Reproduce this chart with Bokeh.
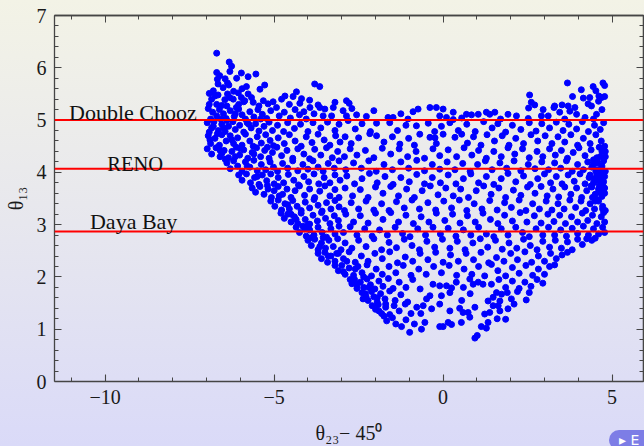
from bokeh.plotting import figure
from bokeh.models import LinearAxis, FixedTicker, Span, Label, Range1d, InlineStyleSheet
from bokeh.embed import file_html
from bokeh.resources import INLINE

# Reactor measurements of theta13 (degrees)
experiments = ["Double Chooz", "RENO", "Daya Bay"]
theta13_exp = [5.0, 4.07, 2.87]

# Scan points (theta23 - 45 deg, theta13), grouped in horizontal strips
strip_60 = [(-6.70,6.28),(-6.33,6.11),(-6.26,6.03),(-6.31,5.93),(-6.70,5.91),(-6.61,5.85),(-6.68,5.78),
            (-5.97,5.90),(-6.11,5.80),(-5.77,5.83),(-5.54,5.88),(-6.45,5.79)]
strip_55 = [(-6.66,5.69),(-6.51,5.62),(-6.38,5.71),(-6.34,5.67),(-5.82,5.64),(-5.28,5.67),(-5.42,5.59),
            (-6.80,5.56),(-6.06,5.52),(-5.77,5.50),(-4.34,5.54),(-3.80,5.69),(-3.65,5.64),(-6.92,5.51),
            (-5.95,5.60),(-6.20,5.55),(3.68,5.71),(4.73,5.71),(4.78,5.66),(4.44,5.64),(4.09,5.58),(4.52,5.56)]
strip_52 = [(-6.75,5.46),(-6.85,5.40),(-6.66,5.48),(-6.46,5.39),(-6.31,5.43),(-6.21,5.40),(-5.97,5.43),
            (-5.67,5.43),(-5.87,5.37),(-5.62,5.34),(-5.32,5.37),(-5.18,5.31),(-5.03,5.35),(-4.78,5.40),
            (-4.68,5.46),(-4.44,5.45),(-4.19,5.41),(-4.24,5.32),(-3.70,5.29),(-3.20,5.34),(-6.92,5.30),
            (-6.55,5.28),(-6.05,5.30),(-5.45,5.27),(-4.55,5.30),(-3.95,5.38),(-2.86,5.37),(-2.78,5.32),
            (-6.40,5.27),(2.56,5.48),(2.61,5.34),(2.71,5.29),(3.83,5.45),(4.34,5.43),(4.61,5.46),
            (4.69,5.43),(4.78,5.45),(4.29,5.31),(4.39,5.27),(3.52,5.29),(3.70,5.27),(4.60,5.36),
            (4.15,5.42),(3.30,5.27)]
strip_50 = [(-6.95,5.22),(-6.82,5.15),(-6.70,5.08),(-6.62,5.20),(-6.50,5.12),(-6.42,5.03),(-6.30,5.18),
            (-6.18,5.07),(-6.05,5.21),(-5.95,5.10),(-5.85,5.02),(-5.72,5.16),(-5.60,5.06),(-5.48,5.20),
            (-5.35,5.11),(-5.22,5.03),(-5.10,5.18),(-6.88,5.02),(-6.58,5.02),(-6.12,5.24),
            (-4.93,5.24),(-4.85,5.08),(-4.70,5.15),(-4.52,5.04),(-4.38,5.20),(-4.25,5.10),(-4.05,5.02),
            (-3.94,5.24),(-3.65,5.24),(-3.50,5.21),(-3.25,5.24),(-3.30,5.08),(-3.55,5.08),(-3.82,5.12),
            (-4.12,5.16),(-2.96,5.18),(-2.86,5.08),(-2.56,5.10),(-2.27,5.07),(-1.63,5.05),(-1.48,5.05),
            (-0.89,5.16),(-0.74,5.21),(-1.04,5.02),(-0.39,5.24),(-0.20,5.24),(-0.10,5.08),(-2.05,5.18),
            (-1.25,5.12),(-2.70,5.22),(0.00,5.21),(0.30,5.15),(0.10,5.05),(0.30,5.01),(0.69,5.11),
            (0.84,5.10),(1.04,5.11),(1.28,5.15),(1.38,5.11),(1.53,5.15),(1.92,5.11),(2.17,5.08),
            (2.53,5.23),(2.96,5.20),(2.91,5.08),(2.52,5.03),(1.70,5.02),(0.55,5.04),(3.28,5.24),
            (3.75,5.17),(3.95,5.11),(3.45,5.15),(3.11,5.08),(4.54,5.11),(3.90,5.24),(4.20,5.05),
            (4.70,5.20),(4.45,5.02),(3.60,5.02)]
strip_48 = [(-6.98,4.95),(-6.85,4.85),(-6.78,4.97),(-6.65,4.80),(-6.55,4.92),(-6.45,4.78),(-6.35,4.88),
            (-6.22,4.97),(-6.15,4.82),(-6.02,4.90),(-5.90,4.77),(-5.80,4.95),(-5.68,4.85),(-5.55,4.93),
            (-5.45,4.79),(-5.30,4.88),(-5.15,4.96),(-5.05,4.80),(-6.92,4.77),(-6.40,4.99),
            (-4.90,4.90),(-4.72,4.78),(-4.60,4.95),(-4.40,4.84),(-4.22,4.92),(-4.00,4.78),(-3.85,4.95),
            (-3.62,4.85),(-3.42,4.96),(-3.20,4.80),(-3.08,4.92),(-2.81,4.99),(-2.60,4.83),(-2.40,4.93),
            (-2.15,4.78),(-1.97,4.94),(-1.58,4.95),(-1.35,4.80),(-1.10,4.90),(-0.79,4.89),(-0.44,4.94),
            (-0.25,4.78),(-0.05,4.88),(0.20,4.95),(0.45,4.80),(0.70,4.92),(0.95,4.78),(1.20,4.97),
            (1.45,4.85),(1.62,4.93),(1.85,4.77),(2.05,4.90),(2.30,4.82),(2.55,4.95),(2.75,4.79),
            (2.92,4.93),(3.15,4.85),(3.35,4.96),(3.55,4.80),(3.72,4.92),(3.95,4.83),(4.12,4.97),
            (4.30,4.78),(4.48,4.90),(4.65,4.82),(4.75,4.95)]
strip_45 = [(-6.95,4.70),(-6.88,4.55),(-6.75,4.65),(-6.62,4.52),(-6.55,4.72),(-6.42,4.60),(-6.30,4.70),
            (-6.20,4.55),(-6.08,4.66),(-5.95,4.52),(-5.85,4.73),(-5.72,4.60),(-5.62,4.50),(-5.50,4.68),
            (-5.38,4.56),(-5.25,4.72),(-5.12,4.61),(-5.02,4.51),(-6.68,4.74),
            (-4.88,4.66),(-4.70,4.55),(-4.55,4.72),(-4.38,4.60),(-4.20,4.50),(-4.05,4.68),(-3.88,4.57),
            (-3.70,4.73),(-3.52,4.62),(-3.35,4.52),(-3.18,4.70),(-3.05,4.58),(-2.90,4.68),(-2.72,4.55),
            (-2.50,4.66),(-2.17,4.74),(-1.97,4.70),(-1.75,4.58),(-1.50,4.68),(-1.28,4.54),(-1.02,4.65),
            (-0.69,4.73),(-0.39,4.67),(-0.24,4.66),(-0.20,4.55),(-0.85,4.52),(0.00,4.73),(0.35,4.67),
            (0.55,4.73),(0.72,4.56),(0.90,4.68),(1.12,4.52),(1.30,4.72),(1.52,4.60),(1.75,4.70),
            (1.95,4.52),(2.15,4.65),(2.38,4.55),(2.60,4.72),(2.80,4.60),(3.02,4.70),(3.22,4.55),
            (3.40,4.68),(3.60,4.58),(3.78,4.72),(3.98,4.52),(4.15,4.65),(4.35,4.55),(4.52,4.72),
            (4.68,4.60),(4.78,4.50)]
strip_42 = [(-6.98,4.45),(-6.85,4.35),(-6.72,4.47),(-6.60,4.30),(-6.48,4.42),(-6.35,4.28),(-6.25,4.40),
            (-6.12,4.48),(-6.02,4.33),(-5.90,4.43),(-5.78,4.27),(-5.65,4.38),(-5.52,4.47),(-5.40,4.30),
            (-5.28,4.42),(-5.15,4.27),(-5.05,4.38),(-6.55,4.36),
            (-4.92,4.48),(-4.78,4.32),(-4.62,4.42),(-4.45,4.27),(-4.30,4.45),(-4.12,4.35),(-3.95,4.26),
            (-3.80,4.44),(-3.62,4.33),(-3.45,4.47),(-3.28,4.28),(-3.12,4.40),(-2.92,4.30),(-2.75,4.45),
            (-2.55,4.33),(-2.30,4.42),(-2.05,4.28),(-1.80,4.46),(-1.55,4.35),(-1.30,4.45),(-1.05,4.30),
            (-0.80,4.40),(-0.55,4.27),(-0.30,4.45),(-0.10,4.32),(0.15,4.43),(0.40,4.30),(0.62,4.47),
            (0.85,4.33),(1.05,4.42),(1.28,4.27),(1.50,4.40),(1.72,4.30),(1.92,4.47),(2.12,4.35),
            (2.35,4.45),(2.55,4.28),(2.78,4.40),(2.95,4.30),(3.15,4.45),(3.32,4.33),(3.50,4.42),
            (3.68,4.27),(3.85,4.38),(4.02,4.47),(4.20,4.32),(4.38,4.43),(4.55,4.28),(4.70,4.40),
            (4.62,4.48),(4.80,4.30)]
strip_40 = [(-6.40,4.18),(-6.30,4.07),(-6.20,4.22),(-6.08,4.12),(-5.95,4.02),(-5.85,4.20),(-5.72,4.10),
            (-5.60,4.23),(-5.50,4.03),(-5.38,4.15),(-5.25,4.05),(-5.12,4.20),(-5.02,4.10),(-6.45,4.25),
            (-4.90,4.02),(-4.75,4.17),(-4.60,4.08),(-4.45,4.22),(-4.30,4.03),(-4.15,4.15),(-4.00,4.06),
            (-3.85,4.22),(-3.70,4.10),(-3.55,4.02),(-3.40,4.17),(-3.22,4.08),(-3.08,4.22),(-2.88,4.05),
            (-2.65,4.18),(-2.42,4.08),(-2.20,4.22),(-1.98,4.02),(-1.75,4.15),(-1.50,4.05),(-1.25,4.20),
            (-1.02,4.08),(-0.78,4.23),(-0.55,4.03),(-0.32,4.15),(-0.10,4.06),(0.12,4.20),(0.35,4.05),
            (0.58,4.17),(0.80,4.02),(1.02,4.15),(1.25,4.22),(1.45,4.05),(1.68,4.18),(1.88,4.08),
            (2.10,4.22),(2.30,4.03),(2.52,4.15),(2.72,4.07),(2.92,4.20),(3.12,4.05),(3.30,4.18),
            (3.48,4.08),(3.65,4.22),(3.82,4.02),(3.98,4.15),(4.15,4.05),(4.28,4.20),(4.40,4.10),
            (4.52,4.02),(4.58,4.18),(4.68,4.08),(4.75,4.22),(4.80,4.02),(4.45,4.24)]
strip_38 = [(-6.05,3.95),(-5.95,3.85),(-5.82,3.97),(-5.70,3.80),(-5.58,3.90),(-5.45,3.77),(-5.35,3.95),
            (-5.22,3.84),(-5.10,3.97),(-5.00,3.78),(-4.88,3.90),(-4.72,3.80),(-4.58,3.96),(-4.42,3.85),
            (-4.28,3.76),(-4.12,3.92),(-3.98,3.82),(-3.82,3.97),(-3.68,3.78),(-3.52,3.90),(-3.35,3.80),
            (-3.20,3.95),(-3.05,3.85),(-2.85,3.93),(-2.62,3.78),(-2.40,3.88),(-2.18,3.98),(-1.95,3.80),
            (-1.72,3.92),(-1.48,3.77),(-1.25,3.90),(-1.00,3.82),(-0.78,3.96),(-0.55,3.78),(-0.32,3.90),
            (-0.08,3.80),(0.15,3.95),(0.38,3.78),(0.60,3.88),(0.82,3.97),(1.05,3.80),(1.28,3.92),
            (1.50,3.77),(1.72,3.88),(1.92,3.98),(2.15,3.82),(2.38,3.93),(2.58,3.77),(2.80,3.88),
            (3.00,3.97),(3.18,3.80),(3.35,3.92),(3.52,3.78),(3.70,3.95),(3.88,3.83),(4.05,3.97),
            (4.20,3.78),(4.32,3.90),(4.45,3.80),(4.55,3.95),(4.62,3.85),(4.72,3.77),(4.78,3.92),
            (4.48,3.88),(4.68,3.98)]
strip_35 = [(-5.65,3.70),(-5.55,3.62),(-5.42,3.73),(-5.30,3.58),(-5.18,3.68),(-5.08,3.52),(-5.00,3.65),
            (-4.88,3.73),(-4.75,3.58),(-4.62,3.68),(-4.50,3.52),(-4.38,3.65),(-4.25,3.74),(-4.10,3.56),
            (-3.95,3.68),(-3.80,3.52),(-3.65,3.64),(-3.50,3.74),(-3.35,3.55),(-3.20,3.67),(-3.08,3.52),
            (-2.90,3.70),(-2.68,3.55),(-2.45,3.67),(-2.22,3.52),(-2.00,3.72),(-1.78,3.60),(-1.55,3.73),
            (-1.32,3.55),(-1.08,3.68),(-0.85,3.52),(-0.62,3.65),(-0.38,3.74),(-0.15,3.57),(0.08,3.70),
            (0.30,3.55),(0.52,3.68),(0.75,3.52),(0.98,3.65),(1.20,3.74),(1.42,3.58),(1.65,3.70),
            (1.85,3.52),(2.08,3.66),(2.30,3.56),(2.50,3.72),(2.72,3.60),(2.90,3.73),(3.08,3.55),
            (3.25,3.68),(3.42,3.53),(3.60,3.72),(3.78,3.58),(3.95,3.70),(4.10,3.52),(4.25,3.65),
            (4.38,3.74),(4.50,3.58),(4.60,3.68),(4.70,3.54),(4.78,3.70),(4.42,3.52),(4.65,3.62)]
strip_32 = [(-5.10,3.45),(-4.98,3.35),(-4.88,3.47),(-4.78,3.28),(-4.68,3.40),(-4.55,3.30),(-4.45,3.46),
            (-4.32,3.35),(-4.20,3.27),(-4.08,3.43),(-3.95,3.32),(-3.82,3.48),(-3.70,3.37),(-3.58,3.26),
            (-3.45,3.42),(-3.32,3.30),(-3.20,3.46),(-3.08,3.34),(-2.92,3.27),(-2.72,3.42),(-2.50,3.30),
            (-2.28,3.45),(-2.05,3.28),(-1.82,3.40),(-1.60,3.27),(-1.38,3.44),(-1.15,3.32),(-0.92,3.47),
            (-0.70,3.30),(-0.45,3.42),(-0.22,3.28),(0.02,3.45),(0.25,3.32),(0.48,3.47),(0.70,3.27),
            (0.92,3.40),(1.15,3.30),(1.38,3.46),(1.60,3.28),(1.82,3.42),(2.02,3.33),(2.25,3.47),
            (2.45,3.27),(2.65,3.40),(2.85,3.30),(3.05,3.45),(3.22,3.28),(3.40,3.40),(3.58,3.30),
            (3.75,3.47),(3.92,3.33),(4.08,3.45),(4.22,3.27),(4.35,3.40),(4.48,3.30),(4.60,3.45),
            (4.72,3.35),(4.80,3.27),(4.55,3.48)]
strip_30 = [(-4.80,3.22),(-4.70,3.12),(-4.60,3.20),(-4.50,3.05),(-4.40,3.15),(-4.30,3.02),(-4.20,3.22),
            (-4.08,3.10),(-3.95,3.01),(-3.85,3.18),(-3.72,3.07),(-3.60,3.23),(-3.48,3.12),(-3.35,3.02),
            (-3.22,3.17),(-3.10,3.08),(-2.88,3.20),(-2.65,3.05),(-2.45,3.17),(-2.22,3.03),(-2.00,3.22),
            (-1.78,3.10),(-1.55,3.23),(-1.32,3.05),(-1.10,3.18),(-0.88,3.02),(-0.65,3.15),(-0.42,3.05),
            (-0.20,3.22),(0.05,3.08),(0.28,3.20),(0.50,3.03),(0.72,3.17),(0.95,3.05),(1.18,3.22),
            (1.40,3.10),(1.62,3.02),(1.82,3.18),(2.05,3.07),(2.28,3.23),(2.48,3.05),(2.70,3.17),
            (2.90,3.03),(3.10,3.20),(3.28,3.06),(3.45,3.18),(3.62,3.02),(3.80,3.15),(3.98,3.05),
            (4.12,3.22),(4.28,3.08),(4.42,3.18),(4.55,3.02),(4.68,3.15),(4.78,3.05),(4.75,3.23)]
strip_28 = [(-4.35,2.95),(-4.25,2.85),(-4.15,2.97),(-4.05,2.78),(-3.95,2.90),(-3.82,2.80),(-3.70,2.95),
            (-3.58,2.85),(-3.45,2.76),(-3.32,2.92),(-3.20,2.82),(-3.08,2.97),(-2.95,2.85),(-2.75,2.96),
            (-2.55,2.80),(-2.32,2.92),(-2.10,2.78),(-1.88,2.90),(-1.65,2.80),(-1.42,2.95),(-1.20,2.83),
            (-0.98,2.77),(-0.75,2.92),(-0.52,2.80),(-0.30,2.95),(-0.08,2.82),(0.15,2.93),(0.38,2.78),
            (0.60,2.90),(0.82,2.80),(1.05,2.95),(1.28,2.82),(1.50,2.77),(1.72,2.92),(1.92,2.80),
            (2.15,2.95),(2.35,2.85),(2.55,2.77),(2.75,2.92),(2.95,2.80),(3.12,2.95),(3.30,2.80),
            (3.48,2.90),(3.65,2.78),(3.82,2.93),(3.98,2.83),(4.15,2.97),(4.30,2.80),(4.45,2.92),
            (4.60,2.82),(4.72,2.95),(4.78,2.85)]
strip_25 = [(-4.00,2.70),(-3.90,2.60),(-3.80,2.72),(-3.70,2.52),(-3.60,2.65),(-3.48,2.55),(-3.38,2.70),
            (-3.25,2.58),(-3.12,2.73),(-3.02,2.52),(-2.90,2.65),(-2.70,2.55),(-2.50,2.70),(-2.28,2.58),
            (-2.05,2.73),(-1.82,2.52),(-1.60,2.66),(-1.38,2.56),(-1.15,2.72),(-0.92,2.60),(-0.70,2.52),
            (-0.48,2.68),(-0.25,2.57),(-0.02,2.72),(0.20,2.55),(0.42,2.68),(0.65,2.52),(0.88,2.65),
            (1.10,2.73),(1.32,2.57),(1.55,2.70),(1.75,2.53),(1.95,2.65),(2.18,2.55),(2.38,2.72),
            (2.58,2.60),(2.78,2.52),(2.95,2.68),(3.15,2.57),(3.32,2.70),(3.50,2.55),(3.68,2.67),
            (3.82,2.52),(3.98,2.72),(4.12,2.62),(4.25,2.73),(4.40,2.70),(4.50,2.74)]
strip_22 = [(-3.70,2.45),(-3.60,2.35),(-3.50,2.47),(-3.42,2.28),(-3.32,2.40),(-3.20,2.30),(-3.10,2.45),
            (-2.95,2.35),(-2.78,2.48),(-2.60,2.28),(-2.42,2.40),(-2.22,2.30),(-2.02,2.45),(-1.80,2.35),
            (-1.58,2.48),(-1.35,2.27),(-1.12,2.38),(-0.90,2.30),(-0.68,2.45),(-0.45,2.33),(-0.22,2.47),
            (0.00,2.28),(0.22,2.42),(0.45,2.30),(0.68,2.45),(0.90,2.33),(1.12,2.47),(1.35,2.27),
            (1.58,2.37),(1.80,2.30),(2.00,2.45),(2.20,2.33),(2.42,2.48),(2.62,2.28),(2.82,2.40),
            (3.00,2.30),(3.18,2.45),(3.35,2.35),(3.52,2.42),(3.68,2.47)]
strip_20 = [(-3.10,2.12),(-3.00,2.22),(-2.90,2.05),(-2.78,2.17),(-2.65,2.03),(-2.52,2.20),(-2.40,2.08),
            (-2.25,2.23),(-2.12,2.02),(-1.98,2.15),(-1.80,2.05),(-1.60,2.20),(-1.40,2.08),(-1.18,2.22),
            (-0.95,2.03),(-0.72,2.15),(-0.50,2.05),(-0.28,2.20),(-0.05,2.08),(0.18,2.22),(0.40,2.03),
            (0.62,2.15),(0.85,2.05),(1.05,2.20),(1.23,2.02),(1.43,2.24),(1.62,2.12),(1.85,2.02),
            (2.05,2.18),(2.25,2.07),(2.45,2.22),(2.65,2.03),(2.82,2.15),(3.00,2.05),(3.15,2.20),
            (3.30,2.23)]
strip_18 = [(-2.70,1.87),(-2.62,1.95),(-2.55,1.78),(-2.45,1.90),(-2.35,1.80),(-2.25,1.96),(-2.15,1.85),
            (-2.02,1.77),(-1.90,1.92),(-1.78,1.82),(-1.62,1.97),(-1.48,1.78),(-1.30,1.90),(-1.10,1.80),
            (-0.90,1.95),(-0.68,1.77),(-0.30,1.86),(-0.10,1.83),(0.10,1.83),(0.25,1.79),(0.39,1.90),
            (0.79,1.96),(0.89,1.86),(1.04,1.90),(1.18,1.86),(1.43,1.86),(1.65,1.95),(1.85,1.80),
            (2.05,1.92),(2.25,1.78),(2.42,1.90),(2.60,1.82),(2.78,1.95),(2.95,1.88),(0.60,1.80)]
strip_16 = [(-2.37,1.58),(-2.30,1.68),(-2.22,1.55),(-2.12,1.72),(-2.05,1.62),(-1.95,1.52),(-1.85,1.68),
            (-1.72,1.58),(-1.58,1.73),(-1.42,1.55),(-1.25,1.66),(-1.05,1.52),(-0.49,1.58),(-0.39,1.64),
            (-0.05,1.64),(0.20,1.70),(0.55,1.55),(0.80,1.68),(1.33,1.54),(1.48,1.61),(1.58,1.70),
            (1.73,1.67),(1.68,1.54),(2.02,1.58),(2.20,1.72),(2.46,1.56),(2.55,1.70),(1.90,1.70)]
strip_14 = [(-2.00,1.38),(-1.92,1.47),(-1.82,1.30),(-1.70,1.42),(-1.58,1.28),(-1.45,1.45),(-1.30,1.35),
            (-1.12,1.48),(-0.95,1.30),(-0.78,1.42),(-0.59,1.45),(-0.66,1.30),(-0.34,1.39),(0.49,1.40),
            (0.59,1.32),(0.74,1.32),(0.94,1.42),(1.23,1.29),(1.38,1.32),(1.48,1.45),(1.68,1.35),
            (1.63,1.45),(1.92,1.39),(2.10,1.48),(0.20,1.35),(-0.10,1.48)]
strip_10 = [(-1.67,1.16),(-1.50,1.22),(-1.23,1.05),(-1.10,1.18),(-0.99,0.94),(-0.85,1.10),(-0.54,1.13),
            (-0.64,1.00),(-0.10,1.05),(0.00,1.05),(0.15,1.13),(0.25,1.09),(0.54,1.13),(0.79,1.23),
            (0.94,0.83),(1.01,0.88),(1.13,1.05),(1.28,1.02),(1.33,1.13),(1.85,1.19),(1.60,1.20),
            (-1.40,1.10)]
# extra points where the scan is densest
dense_lower_edge = [(-4.60,3.38),(-4.35,3.10),(-4.10,2.92),(-3.90,2.75),(-3.65,2.58),(-3.40,2.40),
                    (-3.20,2.22),(-2.95,2.10),(-2.75,1.95),(-2.55,1.85),(-2.40,1.70),(-2.28,1.62),
                    (-2.10,1.45),(-1.90,1.35),(-1.75,1.25),(-4.85,3.55),(-5.20,3.75),(-5.50,3.92),
                    (-5.80,4.12),(-6.15,4.30),(-4.50,3.20),(-4.00,3.00),(-3.55,2.75),(-3.15,2.45),
                    (-2.85,2.30),(-2.60,2.15),(-2.35,2.00),(-2.20,1.80),(-1.95,1.60),(-1.70,1.48)]
dense_right_edge = [(4.40,3.72),(4.52,3.85),(4.62,3.75),(4.70,3.92),(4.75,3.82),(4.35,3.95),(4.55,4.05),
                    (4.70,4.12),(4.60,3.62),(4.78,3.60),(4.45,4.15),(4.65,4.30),(4.80,4.40),(4.50,3.45),
                    (4.72,3.30)]
dense_top_left = [(-6.90,4.62),(-6.80,4.88),(-6.70,5.30),(-6.60,4.42),(-6.50,4.85),(-6.38,5.50),
                  (-6.25,4.62),(-6.15,5.12),(-6.00,4.45),(-5.90,5.35),(-5.75,4.92),(-5.60,4.35),
                  (-5.40,5.02),(-5.20,4.48)]

strips = [strip_60, strip_55, strip_52, strip_50, strip_48, strip_45, strip_42, strip_40, strip_38,
          strip_35, strip_32, strip_30, strip_28, strip_25, strip_22, strip_20, strip_18, strip_16,
          strip_14, strip_10, dense_lower_edge, dense_right_edge, dense_top_left]
dtheta23 = [pt[0] for s in strips for pt in s]
theta13 = [pt[1] for s in strips for pt in s]

x_major = [-10, -5, 0, 5]
x_minor = [-11, -9, -8, -7, -6, -4, -3, -2, -1, 1, 2, 3, 4]
y_major = [0, 1, 2, 3, 4, 5, 6, 7]
y_minor = [round(0.2 * k, 1) for k in range(36) if k % 5]

SERIF = "Liberation Serif"
AX = "#454545"

p = figure(width=644, height=446, x_range=Range1d(-11.5, 5.93), y_range=Range1d(0, 7),
           output_backend="svg", toolbar_location=None,
           min_border_left=54, min_border_right=1, min_border_top=15, min_border_bottom=65)
p.background_fill_alpha = 0
p.border_fill_alpha = 0
p.outline_line_color = None
p.styles = {"background": "linear-gradient(to bottom, #f3f3e6 0%, #e7e7ee 50%, #dadaf8 100%)",
            "position": "relative"}
# small notebook-style button in the bottom right corner
p.stylesheets = [InlineStyleSheet(css=(
    ":host::after { content: '\\25B8  E'; position: absolute; left: 609px; top: 430px; "
    "width: 50px; height: 20px; box-sizing: border-box; padding: 1px 0 0 10px; "
    "background: #7d7de6; color: white; border-radius: 10px; "
    "font: 14px 'DejaVu Sans'; line-height: 18px; pointer-events: none; }"))]
p.xgrid.visible = False
p.ygrid.visible = False


def style_axis(ax):
    ax.axis_line_color = AX
    ax.axis_line_width = 1.3
    ax.major_tick_line_color = AX
    ax.minor_tick_line_color = AX
    ax.major_tick_line_width = 1.1
    ax.minor_tick_line_width = 1.0
    ax.major_tick_in = 7
    ax.major_tick_out = 0
    ax.minor_tick_in = 4
    ax.minor_tick_out = 0
    ax.major_label_text_font = SERIF
    ax.major_label_text_color = "#1a1a1a"
    ax.major_label_standoff = 8
    ax.major_label_text_font_size = "20px"


p.xaxis.ticker = FixedTicker(ticks=x_major, minor_ticks=x_minor)
p.yaxis.ticker = FixedTicker(ticks=y_major, minor_ticks=y_minor)
p.xaxis.major_label_overrides = {v: str(v).replace("-", "\u2212") for v in x_major}
style_axis(p.xaxis[0])
style_axis(p.yaxis[0])

# axis titles
p.xaxis.axis_label = "\u03b8\u2082\u2083\u2212 45\u2070"
p.yaxis.axis_label = "\u03b8\u2081\u2083"
for ax in (p.xaxis[0], p.yaxis[0]):
    ax.axis_label_text_font = SERIF
    ax.axis_label_text_font_size = "20px"
    ax.axis_label_text_font_style = "normal"
    ax.axis_label_text_color = "#1a1a1a"
p.xaxis.axis_label_standoff = 15
p.yaxis.axis_label_standoff = 7

# frame ticks on the top and right edges: tick marks only, no labels
for loc, majors, minors in (("above", x_major, x_minor), ("right", y_major, y_minor)):
    for pos, length in ((majors, 7), (minors, 4)):
        ax = LinearAxis(ticker=FixedTicker(ticks=[], minor_ticks=pos))
        ax.axis_line_color = AX
        ax.axis_line_width = 1.3
        ax.minor_tick_line_color = AX
        ax.minor_tick_in = length
        ax.minor_tick_out = 0
        ax.major_tick_out = 0
        ax.major_tick_in = 0
        ax.major_label_standoff = 0
        p.add_layout(ax, loc)

# experiment lines and their names
for t in theta13_exp:
    p.add_layout(Span(location=t, dimension="width", line_color="#ff0000", line_width=2))

label_pos = {"Double Chooz": (-11.07, 5.14, 22), "RENO": (-9.94, 4.157, 20.5), "Daya Bay": (-10.45, 3.06, 22)}
for name in experiments:
    lx, ly, fs = label_pos[name]
    p.add_layout(Label(x=lx, y=ly, text=name, text_font=SERIF, text_font_size=f"{fs}px",
                       text_color="#111111", text_baseline="alphabetic", text_align="left"))

p.scatter(dtheta23, theta13, size=6, color="#0000ff", line_color="#0000ff")

open("out.html", "w").write(file_html(p, INLINE))
